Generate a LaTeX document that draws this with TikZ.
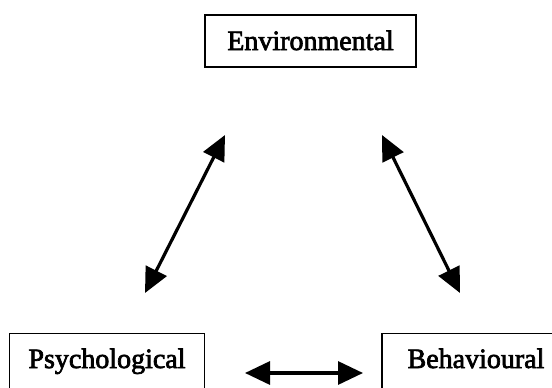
\documentclass[tikz,border=0pt]{standalone}
\usepackage{fontspec}
\setmainfont{Liberation Serif}
\newfontfamily\boxfont[FakeBold=2.5]{Liberation Serif}
\usetikzlibrary{arrows.meta}
\begin{document}
\begin{tikzpicture}[x=1pt,y=-1pt,
  factor/.style={draw, line width=1.8pt, inner sep=0pt, anchor=base,
    font=\boxfont\fontsize{28}{32}\selectfont},
  link/.style={line width=3.2pt, {Triangle[length=25pt,width=23pt]}-{Triangle[length=25pt,width=23pt]}}]
  \useasboundingbox (0,0) rectangle (552,388);
  \clip (0,0) rectangle (552,388);
  % the three factors
  \node[factor, minimum width=211pt, text height=35pt, text depth=17pt]
    (env) at (310.5,50) {Environmental};
  \node[factor, minimum width=195pt, text height=34.5pt, text depth=30pt]
    (psy) at (107,368) {Psychological};
  \node[factor, minimum width=188pt, text height=34.5pt, text depth=30pt]
    (beh) at (476,368) {Behavioural};
  % arrow end points between the boxes
  \coordinate (envL) at (225,135);
  \coordinate (psyT) at (145,293);
  \coordinate (envR) at (382,135);
  \coordinate (behT) at (460,293);
  \coordinate (psyR) at (245,373);
  \coordinate (behL) at (363,373);
  % two-way links
  \draw[link] (envL) -- (psyT);
  \draw[link] (envR) -- (behT);
  \draw[link] (psyR) -- (behL);
\end{tikzpicture}
\end{document}
